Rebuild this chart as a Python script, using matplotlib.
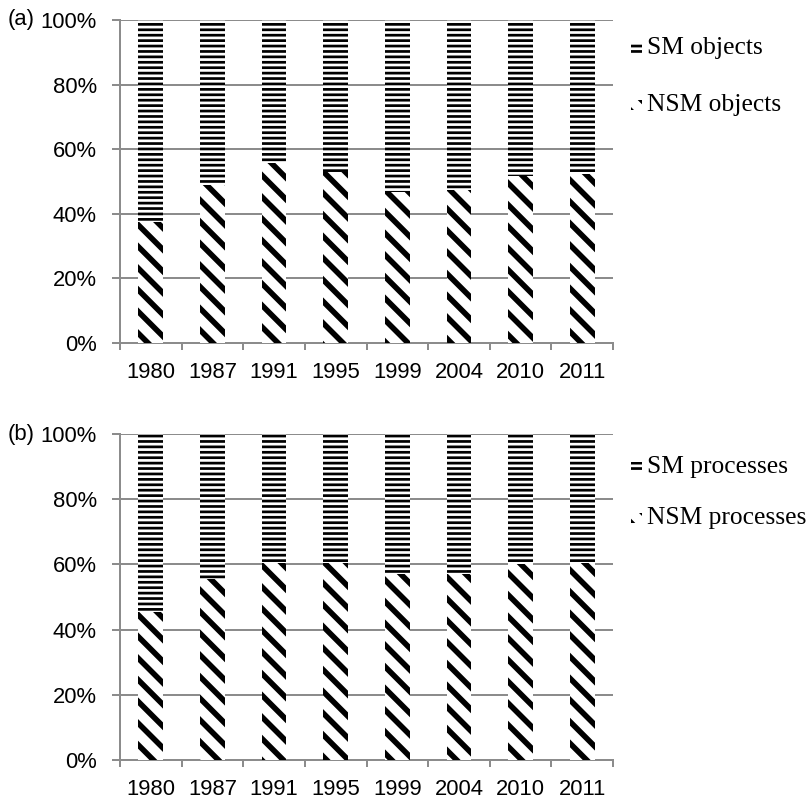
"""Stacked share of SM vs NSM objects and processes per survey year."""

import matplotlib

matplotlib.use("Agg")
import matplotlib.pyplot as plt
import numpy as np
from matplotlib.patches import Rectangle
from matplotlib.ticker import FixedLocator, PercentFormatter

years = ["1980", "1987", "1991", "1995", "1999", "2004", "2010", "2011"]

# share of non-SM (%) per year; SM makes up the rest of 100
nsm_objects = [37.5, 49.0, 55.8, 52.9, 46.8, 47.5, 51.7, 52.2]
nsm_processes = [45.3, 55.5, 60.5, 60.5, 57.0, 57.0, 60.2, 60.5]

panels = [
    ("(a)", nsm_objects, ["SM objects", "NSM objects"]),
    ("(b)", nsm_processes, ["SM processes", "NSM processes"]),
]

W, H = 809, 802
DPI = 130  # hatch spacing is tied to the dpi, this gives the stripe density we want
GRID = "#8c8c8c"
NSM_HATCH, SM_HATCH = "\\\\", "----"
NSM_LW, SM_LW = 3.1, 1.5


def pt(px):
    """Pixels to points at the output dpi."""
    return px * 72 / DPI


plt.rcParams["font.family"] = ["Liberation Sans", "DejaVu Sans"]

fig = plt.figure(figsize=(W / DPI, H / DPI), dpi=DPI)

# pixel boxes (left, top, right, bottom) for each panel
boxes = [(120, 20, 613, 343), (120, 434, 613, 760)]
legend_y = [(48, 105), (467, 518)]

x = np.arange(len(years))
for (tag, nsm, names), (l, t, r, b), ly_pair in zip(panels, boxes, legend_y):
    ax = fig.add_axes([l / W, 1 - b / H, (r - l) / W, (b - t) / H])
    sm = [100 - v for v in nsm]

    with plt.rc_context({"hatch.linewidth": NSM_LW}):
        ax.bar(x, nsm, width=0.4, color="white", edgecolor="black",
               hatch=NSM_HATCH, linewidth=0, zorder=3)
    with plt.rc_context({"hatch.linewidth": SM_LW}):
        ax.bar(x, sm, width=0.4, bottom=nsm, color="white", edgecolor="black",
               hatch=SM_HATCH, linewidth=0, zorder=3)

    ax.set_xlim(-0.5, len(years) - 0.5)
    ax.set_ylim(0, 100)
    ax.yaxis.set_major_locator(FixedLocator([0, 20, 40, 60, 80, 100]))
    ax.yaxis.set_major_formatter(PercentFormatter(decimals=0))
    ax.grid(axis="y", color=GRID, linewidth=pt(2), zorder=0)
    ax.set_axisbelow(True)

    ax.set_xticks(x)
    ax.set_xticklabels(years)
    ax.set_xticks(np.arange(-0.5, len(years)), minor=True)
    ax.tick_params(axis="x", which="major", length=0, pad=pt(19),
                   labelsize=pt(22))
    ax.tick_params(axis="x", which="minor", length=pt(7), width=pt(2),
                   color=GRID)
    ax.tick_params(axis="y", length=pt(8), width=pt(2), color=GRID,
                   pad=pt(15), labelsize=pt(22))

    for side in ("top", "right"):
        ax.spines[side].set_visible(False)
    for side in ("left", "bottom"):
        ax.spines[side].set_color(GRID)
        ax.spines[side].set_linewidth(pt(2))

    fig.text(8 / W, 1 - t / H, tag, fontsize=pt(22), ha="left", va="center")

    # legend entries: small hatched swatch followed by a serif label
    for hatch, lw, name, ly in zip((SM_HATCH, NSM_HATCH), (SM_LW, NSM_LW),
                                   names, ly_pair):
        sw = fig.add_axes([631 / W, 1 - (ly + 5) / H, 11 / W, 10 / H])
        with plt.rc_context({"hatch.linewidth": lw}):
            sw.add_patch(Rectangle((0, 0), 1, 1, facecolor="white",
                                   edgecolor="black", hatch=hatch, linewidth=0))
        sw.axis("off")
        fig.text(647 / W, 1 - ly / H, name, fontsize=pt(25.5),
                 family=["Liberation Serif", "DejaVu Serif"],
                 ha="left", va="center")

fig.savefig("out.png", dpi=DPI)
